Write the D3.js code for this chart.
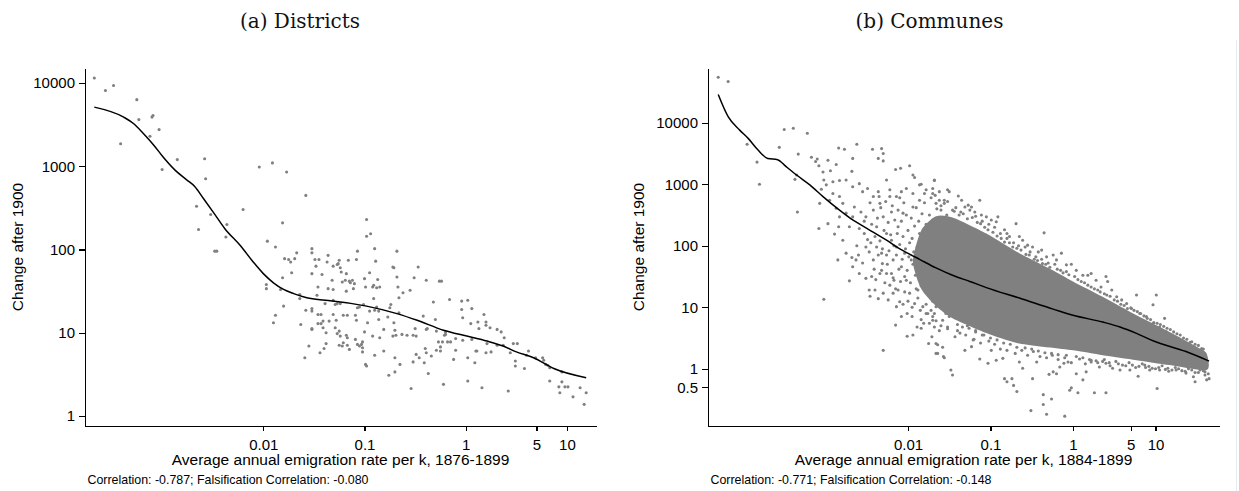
<!DOCTYPE html>
<html lang="en">
<head>
<meta charset="UTF-8">
<title>Emigration and change after 1900</title>
<script src="https://cdn.jsdelivr.net/npm/d3@7"></script>
<style>
    body { margin: 0; background: #fff; }
    svg { display: block; }
    .axis path, .axis line { fill: none; stroke: #000; stroke-width: 1.1; shape-rendering: crispEdges; }
    .axis text { font-family: "Liberation Sans", Arial, sans-serif; font-size: 15px; fill: #000; }
    .lbl { font-family: "Liberation Sans", Arial, sans-serif; font-size: 15.5px; fill: #000; }
    .note { font-family: "Liberation Sans", Arial, sans-serif; font-size: 12.4px; fill: #000; }
    .title { font-family: "DejaVu Serif", serif; font-size: 20px; fill: #111; }
</style>
</head>
<body>
<svg width="1239" height="491"></svg>
<script>
// values, kept as [log10 rate, log10 change]
var districtPoints = [
[-3.67,4.06],[-3.56,3.91],[-3.48,3.97],[-3.41,3.27],[-3.25,3.80],[-3.23,3.56],[-3.10,3.59],[-3.09,3.61],[-3.12,3.36],[-3.03,3.44],
[-3.00,2.96],[-2.85,3.08],[-2.58,3.09],[-2.57,2.85],[-2.66,2.52],[-2.64,2.24],[-2.52,2.42],[-2.48,1.98],[-2.46,1.98],[-2.36,2.30],
[-2.37,2.15],[-2.20,2.48],[-2.04,2.99],[-1.91,3.04],[-1.77,2.93],[-1.58,2.65],[-1.81,2.32],[-1.96,2.10],[-1.88,2.03],[-1.97,1.58],
[-1.97,1.53],[-1.81,1.66],[-1.79,1.89],[-1.83,1.52],[-1.80,1.32],[-1.88,1.21],[-1.90,1.12],[-1.75,1.88],[-1.73,1.85],[-1.72,1.72],
[-1.69,1.89],[-1.67,1.96],[-1.64,1.46],[-1.64,1.41],[-1.63,1.10],[-1.58,1.27],[-1.55,0.84],[-1.59,0.70],[-1.52,2.01],[-1.52,1.96],
[-1.49,1.88],[-1.45,1.88],[-1.48,1.80],[-1.52,1.71],[-1.42,1.70],[-1.46,1.55],[-1.47,1.45],[-1.52,1.29],[-1.52,1.26],[-1.52,1.05],
[-1.52,1.04],[-1.46,1.22],[-1.43,1.22],[-1.46,1.11],[-1.43,1.11],[-1.41,1.14],[-1.41,1.06],[-1.38,1.00],[-1.38,0.87],[-1.40,0.81],
[-1.44,0.76],[-1.39,1.35],[-1.36,1.93],[-1.36,1.53],[-1.35,1.14],[-1.37,1.85],
[-1.32,1.63],[-1.31,1.52],[-1.31,1.80],[-1.27,1.82],[-1.26,1.83],[-1.25,1.87],[-1.24,1.78],[-1.23,1.73],[-1.22,1.61],[-1.19,1.63],
[-1.18,1.71],[-1.16,1.87],[-1.15,1.62],[-1.18,1.50],[-1.14,1.60],[-1.12,1.63],[-1.11,1.53],[-1.10,1.59],[-1.08,1.88],[-1.07,1.98],
[-1.31,1.39],[-1.29,1.34],[-1.27,1.35],[-1.24,1.35],[-1.21,1.21],[-1.17,1.21],[-1.31,1.22],[-1.28,1.15],[-1.29,1.06],[-1.25,1.02],
[-1.27,0.99],[-1.24,0.96],[-1.18,0.97],[-1.17,0.94],[-1.21,0.88],[-1.25,0.85],[-1.22,0.84],[-1.17,0.85],[-1.15,0.80],[-1.09,0.92],
[-1.07,0.86],[-1.05,0.84],[-1.03,0.86],[-1.02,0.82],[-1.02,0.77],[-1.00,1.01],[-0.97,1.12],[-1.09,1.21],[-1.08,1.15],[-1.07,1.30],
[-1.05,1.31],[-1.01,1.34],[-0.98,2.36],[-0.98,2.16],[-0.94,2.19],[-0.90,2.01],[-0.89,1.86],[-1.00,1.65],[-0.99,1.55],[-0.95,1.72],
[-0.92,1.55],[-0.91,1.57],[-0.88,1.54],[-0.87,1.64],[-0.85,1.55],[-0.91,1.41],[-0.90,1.27],[-0.88,1.31],[-0.86,1.26],[-0.95,1.26],
[-0.86,1.16],[-0.81,1.04],[-0.92,0.96],[-0.85,0.94],[-0.90,0.73],[-0.81,0.78],[-0.99,0.62],[-0.98,0.60],[-1.02,0.89],[-0.77,1.19],
[-0.75,1.30],[-0.74,1.34],[-0.72,1.79],[-0.71,1.78],[-0.68,1.98],[-0.68,1.67],[-0.67,1.55],[-0.66,1.42],[-0.66,1.24],[-0.71,1.12],
[-0.70,1.03],[-0.72,0.96],[-0.69,0.97],[-0.70,0.70],[-0.65,0.62],[-0.70,0.53],[-0.76,0.49],[-0.62,1.48],[-0.55,1.51],[-0.51,1.66],
[-0.47,1.79],[-0.39,1.63],[-0.63,0.98],[-0.58,0.97],[-0.52,0.97],[-0.50,1.05],[-0.49,0.96],[-0.52,0.65],[-0.49,0.74],[-0.46,0.70],
[-0.41,0.64],[-0.40,0.81],[-0.39,0.76],[-0.37,0.51],[-0.54,0.33],[-0.42,1.20],[-0.39,1.04],[-0.38,1.05],[-0.34,0.72],[-0.32,1.37],
[-0.30,1.16],[-0.29,1.02],[-0.26,1.62],[-0.24,1.62],[-0.27,0.89],[-0.25,0.83],[-0.29,0.79],[-0.25,0.78],[-0.22,0.38],[-0.23,0.89],
[-0.21,0.97],[-0.20,1.01],[-0.20,0.98],[-0.18,0.89],[-0.16,1.40],[-0.15,0.89],[-0.12,0.68],[-0.10,0.79],[-0.10,0.93],[-0.04,1.38],
[-0.04,1.28],[-0.03,1.18],[0.02,1.39],[0.06,1.29],[0.05,1.11],[0.06,0.92],[-0.03,0.91],[0.02,0.70],[0.02,0.42],[0.09,0.64],
[0.10,0.78],[0.11,0.78],[0.13,1.05],[0.12,1.13],[0.16,0.34],[0.18,1.22],[0.20,1.13],[0.20,1.09],[0.21,0.87],[0.20,0.76],
[0.24,1.06],[0.25,0.77],[0.31,1.04],[0.35,1.01],[0.38,0.94],[0.37,0.85],[0.31,0.85],[0.42,0.30],[0.44,0.76],[0.47,0.87],
[0.51,0.87],[0.49,0.66],[0.49,0.60],[0.58,0.57],[0.62,0.78],[0.60,0.73],[0.69,0.70],[0.76,0.70],[0.77,0.67],[0.79,0.62],
[0.81,0.61],[0.83,0.58],[0.83,0.42],[0.92,0.35],[0.93,0.28],[0.95,0.53],[0.95,0.41],[0.98,0.35],[1.01,0.35],[1.06,0.23],
[1.13,0.34],[1.19,0.28],[1.17,0.14]
];
var districtFit = [
[-3.67,3.71],[-3.38,3.59],[-3.28,3.51],[-3.19,3.40],[-3.08,3.25],[-2.99,3.11],[-2.87,2.95],[-2.76,2.84],[-2.68,2.76],[-2.59,2.61],
[-2.49,2.44],[-2.38,2.25],[-2.23,2.05],[-2.10,1.85],[-2.00,1.71],[-1.90,1.60],[-1.80,1.52],[-1.70,1.47],[-1.57,1.42],[-1.44,1.395],
[-1.34,1.385],[-0.98,1.32],[-0.68,1.23],[-0.48,1.15],[-0.22,1.03],[0.01,0.96],[0.21,0.90],[0.37,0.84],[0.50,0.77],[0.67,0.70],
[0.87,0.57],[1.19,0.46]
];

var communePoints = [
[-4.30,4.74],[-4.18,4.67],[-3.95,3.65],[-3.83,3.36],[-3.80,3.00],[-3.56,3.60],[-3.50,3.89],[-3.39,3.91],[-3.22,3.83],[-3.33,3.49],
[-3.37,3.08],[-3.35,3.15],[-3.34,2.55],[-3.17,3.44],[-3.12,3.37],[-3.10,3.41],[-3.08,3.30],[-3.03,3.20],[-2.97,3.39],[-2.94,3.22],
[-2.87,3.32],[-2.84,3.59],[-2.77,3.57],[-2.62,3.65],[-2.68,3.21],[-2.67,3.42],[-2.43,3.57],[-2.32,3.58],[-2.30,3.50],[-2.36,3.42],
[-2.30,3.38],[-2.15,3.24],[-2.09,3.26],[-1.98,3.30],[-1.94,3.15],[-1.92,3.11],[-1.84,3.00],[-1.68,3.06],[-3.02,1.13],[-3.08,2.28],
[-2.97,2.36],[-2.89,2.19],[-2.84,2.31],[-2.71,1.43],[-2.68,1.81],[-2.62,2.00],[-2.53,2.20],[-2.51,1.47],[-2.44,1.50],[-2.47,1.28],
[-2.46,1.18],[-2.40,1.28],[-2.36,1.14],[-2.32,1.88],[-2.31,1.71],[-2.26,1.55],[-2.22,1.36],[-2.17,1.44],[-2.15,0.71],[-2.12,1.28],
[-2.10,1.09],[-2.01,0.90],[-2.01,0.53],[-1.94,0.55],[-1.89,0.68],[-1.84,0.66],[-1.81,0.74],[-1.75,0.41],[-1.71,0.52],[-1.66,0.25],
[-1.64,0.39],[-1.57,0.20],[-1.58,0.35],[-2.30,0.30],[-1.70,0.79],[-1.52,0.68],[-1.68,0.90],
[-3.02,3.07],[-2.99,2.99],[-2.91,3.04],[-2.83,3.06],[-2.75,3.07],[-3.05,2.92],[-2.91,2.85],[-2.83,2.80],[-2.79,2.69],[-2.67,2.96],
[-2.59,3.01],[-2.55,2.88],[-2.49,2.93],[-2.42,2.80],[-2.36,2.88],[-2.34,2.69],[-2.26,3.07],[-2.22,2.91],[-2.14,2.80],[-2.08,2.88],
[-2.02,2.93],[-1.94,2.85],[-1.86,2.74],[-1.78,2.91],[-1.70,2.85],[-1.62,2.88],[-1.52,2.91],
[-2.87,2.61],[-2.75,2.53],[-2.67,2.47],[-3.07,2.69],[-2.95,2.74],[-2.83,2.47],[-2.71,2.31],[-2.65,2.63],[-2.59,2.28],[-2.51,2.47],
[-2.42,2.58],[-2.38,2.31],[-2.30,2.47],[-2.26,2.20],[-2.20,2.55],[-2.18,1.77],[-2.12,2.31],[-2.08,1.66],[-2.06,2.53],[-2.04,1.50],
[-1.98,1.23],[-1.94,2.63],[-1.92,1.06],[-1.88,1.28],[-1.82,1.01],[-1.76,0.90],[-1.72,1.23],[-1.66,1.01],[-1.62,1.12],[-1.58,0.79],
[-1.54,0.90],[-2.51,1.98],[-2.42,1.77],[-2.38,1.98],[-2.67,1.66],[-2.59,1.55],[-2.63,1.77],[-2.75,1.88],[-2.85,1.77],[-2.79,2.09],
[-2.34,1.55],[-2.30,1.23],[-2.24,1.12],[-2.18,1.23],[-2.14,1.01],[-2.08,0.85],[-2.02,1.44],[-2.04,1.88],[-2.14,1.98],[-2.20,2.09],
[-1.96,1.77],[-1.88,1.98],[-1.86,2.20],[-1.70,2.42],[-1.60,2.58],[-1.56,2.74],[-1.66,2.69],
[-1.86,2.99],[-1.80,2.85],[-1.68,3.07],[-1.70,2.93],[-1.67,2.82],[-1.62,2.74],[-1.56,2.69],[-1.50,2.88],[-1.46,2.58],[-1.39,2.81],
[-1.35,2.74],[-1.31,2.63],[-1.27,2.66],[-1.23,2.63],[-1.19,2.55],[-1.13,2.74],[-1.11,2.50],[-1.05,2.47],[-0.99,2.42],[-0.91,2.47],
[-0.93,2.39],[-0.83,2.26],[-0.80,2.20],[-0.77,2.15],[-0.69,2.36],[-0.65,2.15],[-0.61,2.09],[-0.55,2.01],[-0.49,1.98],[-0.42,1.90],
[-0.38,1.93],[-0.35,2.21],[-0.32,1.82],[-0.24,1.85],[-0.20,1.77],[-0.14,1.88],[-0.08,1.69],[-0.02,1.70],[0.04,1.60],[0.12,1.52],
[0.18,1.52],[0.22,1.55],[0.28,1.44],[0.34,1.33],[0.40,1.50],[0.42,1.42],[0.47,1.28],[0.53,1.17],[0.59,1.12],[0.65,1.06],
[0.71,0.98],[0.77,1.20],[0.81,0.90],[0.89,0.85],[0.97,1.04],[1.01,1.20],[0.97,0.74],[1.05,0.68],[1.11,0.82],[1.13,0.60],
[1.21,0.52],[1.29,0.47],[1.37,0.36],[1.46,0.30],[1.54,0.22],
[-1.74,0.74],[-1.68,0.68],[-1.66,0.41],[-1.64,0.25],[-1.56,0.18],[-1.48,-0.02],[-1.46,-0.10],[-1.43,0.52],[-1.37,0.58],[-1.31,0.30],
[-1.23,0.36],[-1.21,0.47],[-1.13,0.16],[-1.03,0.09],[-0.99,0.30],[-0.93,0.14],[-0.85,0.17],[-0.83,-0.16],[-0.80,-0.21],[-0.74,-0.16],
[-0.72,-0.27],[-0.68,-0.37],[-0.65,0.11],[-0.61,0.01],[-0.51,-0.68],[-0.49,-0.16],[-0.44,0.11],[-0.36,-0.42],[-0.36,-0.58],[-0.32,-0.74],
[-0.26,-0.49],[-0.29,-0.09],[-0.24,-0.05],[-0.20,-0.08],[-0.16,0.03],[-0.10,-0.77],[-0.11,0.09],[-0.06,0.11],[-0.04,-0.35],[-0.02,-0.31],
[0.04,-0.08],[0.06,-0.39],[0.12,-0.18],[0.16,-0.05],[0.22,0.11],[0.26,-0.39],[0.32,0.03],[0.40,-0.39],[0.40,0.09],[0.48,0.01],
[0.57,-0.02],[0.69,-0.02],[0.79,-0.12],[0.87,0.06],[0.93,-0.02],[1.02,-0.32],[1.05,-0.02],[1.15,0.01],[1.25,-0.02],[1.37,-0.07],
[1.46,-0.13],[1.48,-0.21],[1.60,-0.05],[1.62,-0.18],[1.65,-0.16],[1.64,-0.08],[1.62,0.14],[1.58,0.11],
[-1.80,2.70],[-1.72,2.78],[-1.60,2.65],[-1.52,2.72],[-1.42,2.62],[-1.36,2.55],[-1.25,2.58],[-1.18,2.48],[-1.10,2.40],[-1.02,2.35],
[-0.95,2.30],[-0.88,2.20],[-0.80,2.12],[-0.72,2.05],[-0.66,2.00],[-0.58,1.98],[-0.52,1.90],[-0.45,1.82],[-0.38,1.78],[-0.30,1.72],
[-0.22,1.70],[-0.15,1.60],[-0.08,1.58],[0.02,1.50],[0.10,1.42],[0.18,1.36],[0.26,1.30],[0.33,1.25],[0.41,1.20],[0.50,1.12],
[0.58,1.05],[0.66,0.98],[0.74,0.95],[0.82,0.90],[0.90,0.82],[0.98,0.75],[1.06,0.72],[1.14,0.66],[1.22,0.60],[1.30,0.55],
[1.38,0.48],[1.44,0.44],[1.52,0.38],[1.58,0.32],
[-1.95,1.00],[-1.85,0.95],[-1.78,0.90],[-1.70,0.85],[-1.60,0.70],[-1.52,0.65],[-1.40,0.62],[-1.30,0.55],[-1.20,0.48],[-1.12,0.42],
[-1.02,0.45],[-0.95,0.40],[-0.88,0.32],[-0.80,0.30],[-0.70,0.25],[-0.62,0.30],[-0.55,0.22],[-0.48,0.28],[-0.40,0.20],[-0.32,0.18],
[-0.25,0.22],[-0.18,0.15],[-0.10,0.18],[-0.02,0.10],[0.08,0.16],[0.15,0.08],[0.22,0.14],[0.30,0.10],[0.38,0.15],[0.45,0.05],
[0.52,0.12],[0.60,0.06],[0.68,0.10],[0.76,0.02],[0.84,0.08],[0.92,0.04],[1.00,0.00],[1.08,0.05],[1.16,-0.04],[1.24,0.02],
[1.32,-0.03],[1.40,0.00],[1.48,-0.06],[1.54,-0.02],[1.60,-0.10],
[-2.45,2.05],[-2.44,2.35],[-2.41,1.62],[-2.40,2.15],[-2.37,2.45],[-2.36,1.85],[-2.34,2.08],[-2.33,2.62],[-2.31,1.95],[-2.29,2.25],
[-2.28,1.40],[-2.27,2.72],[-2.25,1.70],[-2.24,2.38],[-2.23,1.92],[-2.21,2.18],[-2.20,1.55],[-2.19,2.65],[-2.17,2.00],[-2.16,2.42],
[-2.15,1.30],[-2.14,1.85],[-2.13,2.20],[-2.12,2.58],[-2.11,1.62],[-2.10,2.02],[-2.09,1.42],[-2.08,2.40],[-2.07,1.78],[-2.06,2.15],
[-2.05,2.70],[-2.04,1.25],[-2.03,1.95],[-2.02,2.50],[-2.01,1.60],[-2.00,2.25],[-1.99,1.82],[-1.98,2.05],[-1.97,1.40],[-1.96,2.45],
[-1.95,2.12],[-1.94,1.70],[-1.93,1.90],[-1.92,2.32],[-1.91,1.52],[-1.90,2.62],[-1.89,1.98],[-1.88,1.15],[-1.87,2.40],[-1.86,1.72],
[-1.85,2.08],[-1.84,1.35],[-1.83,2.52],[-1.82,1.88],[-1.81,2.22],[-1.80,1.58],[-1.79,1.95],[-1.78,2.35],[-1.77,1.25],[-1.76,2.02],
[-1.75,1.68],[-1.74,2.50],[-1.73,1.45],[-1.72,2.15],[-1.71,1.85],[-1.70,1.10],[-1.69,2.30],[-1.68,1.55],[-1.67,2.05],[-1.66,1.78],
[-1.65,2.60],[-1.64,1.35],[-1.63,2.22],[-1.62,1.92],[-1.61,1.62],[-1.60,2.40],[-1.59,1.20],[-1.58,2.10],[-1.57,1.48],[-1.56,2.30],
[-1.55,1.82],[-1.54,1.05],[-1.53,2.50],[-1.52,1.38],[-1.51,2.00],[-1.50,1.70],
[-2.60,1.85],[-2.57,2.55],[-2.55,1.72],[-2.53,2.40],[-2.49,2.10],[-2.47,1.90],[-2.46,2.70],[-2.39,1.45],[-2.35,2.80],[-2.32,1.60],
[-2.26,1.85],[-2.22,2.80],[-2.18,1.48],[-2.10,2.78],[-2.06,1.05],[-2.00,1.10],[-1.95,0.85],[-1.90,1.30],[-1.84,0.80],[-1.78,1.05],
[-1.72,0.95],[-1.66,0.78],[-1.62,0.62],[-1.56,0.95],[-1.50,0.85],[-1.47,1.20],[-1.44,0.95],[-1.40,1.10],[-1.36,0.80],[-1.32,0.95],
[-1.28,0.70],[-1.24,0.85],[-1.18,0.62],[-1.14,0.75],[-1.08,0.55],[-1.04,0.70],
[-1.44,2.56],[-1.38,2.50],[-1.33,2.52],[-1.28,2.44],[-1.22,2.46],[-1.16,2.38],[-1.12,2.36],[-1.07,2.30],[-1.03,2.26],[-0.97,2.22],
[-0.92,2.16],[-0.87,2.12],[-0.83,2.06],[-0.77,2.05],[-0.73,1.98],[-0.68,1.96],[-0.63,1.93],[-0.57,1.86],[-0.53,1.85],[-0.47,1.78],
[-0.43,1.76],[-0.37,1.71],[-0.33,1.70],[-0.28,1.65],[-0.19,1.62],[-0.12,1.56],[-0.05,1.53],[0.06,1.45],[0.14,1.40],[0.22,1.33],
[0.30,1.28],[0.38,1.22],[0.45,1.18],[0.54,1.10],[0.62,1.03],[0.70,0.99],[0.78,0.93],[0.86,0.86],[0.94,0.80],[1.02,0.74],
[1.10,0.69],[1.18,0.64],[1.26,0.57],[1.34,0.50],[1.42,0.43],[1.48,0.40],[1.56,0.33],
[-1.40,0.72],[-1.34,0.68],[-1.26,0.66],[-1.18,0.60],[-1.10,0.55],[-1.00,0.50],[-0.92,0.47],[-0.84,0.42],[-0.76,0.40],[-0.68,0.35],
[-0.58,0.34],[-0.50,0.32],[-0.42,0.29],[-0.34,0.26],[-0.26,0.25],[-0.18,0.23],[-0.08,0.22],[0.04,0.20],[0.12,0.18],[0.20,0.15],
[0.28,0.13],[0.36,0.12],[0.44,0.10],[0.55,0.08],[0.64,0.05],[0.72,0.06],[0.80,0.04],[0.88,0.02],[0.96,0.01],[1.04,0.02],
[1.12,-0.01],[1.20,-0.02],[1.28,0.00],[1.36,-0.04],[1.44,-0.02],[1.52,-0.06],[1.58,-0.03]
];
// outline of the part of the commune cloud where the markers merge into solid grey
var communeCoreTop = [
[-1.94,1.75],[-1.84,2.25],[-1.66,2.48],[-1.46,2.46],[-1.05,2.20],[-0.65,1.88],[-0.24,1.60],[0.00,1.42],[0.36,1.17],[0.77,0.87],
[1.17,0.60],[1.50,0.36],[1.62,0.25]
];
var communeCoreBottom = [
[1.62,-0.02],[1.17,0.06],[0.77,0.14],[0.36,0.22],[0.00,0.30],[-0.65,0.41],[-1.05,0.58],[-1.46,0.82],[-1.66,1.02],[-1.84,1.30]
];
var communeFit = [
[-4.30,4.46],[-4.18,4.10],[-4.04,3.88],[-3.94,3.75],[-3.82,3.56],[-3.70,3.42],[-3.58,3.40],[-3.48,3.29],[-3.35,3.15],[-3.19,2.99],
[-3.03,2.80],[-2.83,2.58],[-2.67,2.42],[-2.47,2.26],[-2.26,2.09],[-2.06,1.92],[-1.86,1.78],[-1.66,1.64],[-1.46,1.52],[-1.25,1.42],
[-1.05,1.32],[-0.65,1.15],[-0.24,0.97],[0.00,0.87],[0.36,0.76],[0.57,0.68],[0.77,0.575],[0.97,0.455],[1.37,0.28],[1.65,0.125]
];

var rateTicks = [0.01, 0.1, 1, 5, 10];
var districtChangeTicks = [1, 10, 100, 1000, 10000];
var communeChangeTicks = [0.5, 1, 10, 100, 1000, 10000];

var panels = [
    {title: "(a) Districts", titleX: 300, left: 85, right: 596, xLog: [-3.762, 1.287], yLog: [-0.12, 4.18],
     points: districtPoints, fit: districtFit, yTicks: districtChangeTicks,
     xLabel: "Average annual emigration rate per k, 1876-1899",
     note: "Correlation: -0.787; Falsification Correlation: -0.080", yLabelX: 23},
    {title: "(b) Communes", titleX: 929.5, left: 708, right: 1219, xLog: [-4.424, 1.77], yLog: [-0.93, 4.89],
     points: communePoints, fit: communeFit, yTicks: communeChangeTicks,
     core: communeCoreTop.concat(communeCoreBottom),
     xLabel: "Average annual emigration rate per k, 1884-1899",
     note: "Correlation: -0.771; Falsification Correlation: -0.148", yLabelX: 644}
];

var svg = d3.select("svg");
var plotTop = 68, plotBottom = 426;
var fmt = d3.format("~g");

panels.forEach(function (p) {
    var x = d3.scaleLog().domain([Math.pow(10, p.xLog[0]), Math.pow(10, p.xLog[1])]).range([p.left, p.right]);
    var y = d3.scaleLog().domain([Math.pow(10, p.yLog[0]), Math.pow(10, p.yLog[1])]).range([plotBottom, plotTop]);
    var px = function (d) { return x(Math.pow(10, d[0])); };
    var py = function (d) { return y(Math.pow(10, d[1])); };
    var g = svg.append("g");

    if (p.core) {
        g.append("path")
            .attr("d", d3.line().x(px).y(py).curve(d3.curveCardinalClosed.tension(0.3))(p.core))
            .attr("fill", "#808080");
    }
    g.selectAll(".dot")
        .data(p.points)
        .enter()
        .append("circle")
        .attr("cx", px)
        .attr("cy", py)
        .attr("r", 1.55)
        .attr("fill", "#808080");
    g.append("path")
        .attr("d", d3.line().x(px).y(py).curve(d3.curveMonotoneX)(p.fit))
        .attr("fill", "none")
        .attr("stroke", "#000")
        .attr("stroke-width", 1.5);

    // axes
    g.append("g")
        .attr("class", "axis")
        .attr("transform", "translate(0," + plotBottom + ")")
        .call(d3.axisBottom(x).tickValues(rateTicks).tickFormat(fmt).tickSize(5).tickPadding(8).tickSizeOuter(0));
    g.append("g")
        .attr("class", "axis")
        .attr("transform", "translate(" + p.left + ",0)")
        .call(d3.axisLeft(y).tickValues(p.yTicks).tickFormat(fmt).tickSize(6).tickPadding(4).tickSizeOuter(0));

    // labels
    g.append("text")
        .attr("class", "title")
        .attr("x", p.titleX)
        .attr("y", 27.5)
        .attr("text-anchor", "middle")
        .text(p.title);
    g.append("text")
        .attr("class", "lbl")
        .attr("x", (p.left + p.right) / 2)
        .attr("y", 465)
        .attr("text-anchor", "middle")
        .text(p.xLabel);
    g.append("text")
        .attr("class", "lbl")
        .attr("transform", "translate(" + p.yLabelX + ",247) rotate(-90)")
        .attr("text-anchor", "middle")
        .text("Change after 1900");
    g.append("text")
        .attr("class", "note")
        .attr("x", p.left + 2.5)
        .attr("y", 484)
        .text(p.note);
});

// faint frame edge at the right of the figure
svg.append("line")
    .attr("x1", 1236.5).attr("x2", 1236.5)
    .attr("y1", 40).attr("y2", 491)
    .attr("stroke", "#e6ecee");
</script>
</body>
</html>
